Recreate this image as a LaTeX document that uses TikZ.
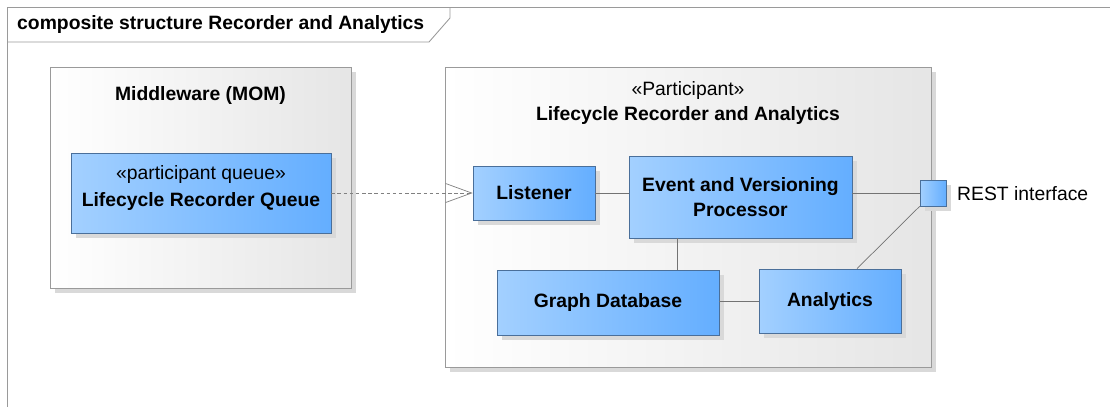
\documentclass[tikz,border=0pt]{standalone}
\usepackage{fontspec}
\setmainfont{Liberation Sans}
\usepackage{tikz}
\usetikzlibrary{shadows, arrows.meta}
\definecolor{azulclaro}{HTML}{A3D0FF}
\definecolor{azuloscuro}{HTML}{64AEFF}
\definecolor{bordeazul}{HTML}{4A6F9A}
\definecolor{gris}{HTML}{9A9A9A}
\tikzstyle{marco} = [draw=gris, line width=0.5pt]
\tikzstyle{sombra} = [drop shadow={shadow xshift=0.1cm,
                                   shadow yshift=-0.1cm,
                                   fill=black!15,
                                   opacity=1}]
\tikzstyle{contenedor} = [rectangle,
                          draw=gris,
                          left color=white,
                          right color=black!10,
                          sombra]
\tikzstyle{componente} = [rectangle,
                          draw=bordeazul,
                          left color=azulclaro,
                          right color=azuloscuro,
                          text centered,
                          align=center,
                          font=\bfseries\fontsize{11}{14}\selectfont,
                          sombra]
\tikzstyle{puerto} = [rectangle,
                      draw=bordeazul,
                      left color=azulclaro,
                      right color=azuloscuro,
                      minimum size=0.52cm,
                      inner sep=0pt,
                      sombra]
\tikzstyle{conector} = [draw=black!55, line width=0.4pt]
\tikzstyle{dependencia} = [draw=black!50, line width=0.4pt,
                           dash pattern=on 2pt off 1.5pt,
                           -{Straight Barb[length=0.52cm,width=0.38cm]}]
\tikzstyle{texto} = [font=\fontsize{11}{14}\selectfont]

\begin{document}
\begin{tikzpicture}[x=0.02cm, y=-0.02cm]
        \useasboundingbox (0,0) rectangle (1110,407);

        % marco del diagrama
        \draw [marco] (1110,7) -- (7,7) -- (7,407);
        \draw [marco] (7,42) -- (429,42) -- (450,18) -- (450,7);
        \node (Titulo) [anchor=west, font=\bfseries\fontsize{11}{14}\selectfont] at (11,24)
            {composite structure Recorder and Analytics};

        % contenedores
        \node (Middleware) [contenedor, minimum width=6.02cm, minimum height=4.42cm] at (200.5,177.5) {};
        \node (MiddlewareTitulo) [texto, font=\bfseries\fontsize{11}{14}\selectfont] at (200.5,95) {Middleware (MOM)};
        \node (Participante) [contenedor, minimum width=9.72cm, minimum height=6cm] at (688,217) {};
        \node (ParticipanteTitulo) [texto, align=center] at (688,103)
            {«Participant»\\[0pt] \textbf{Lifecycle Recorder and Analytics}};

        % partes
        \node (Cola) [componente, minimum width=5.2cm, minimum height=1.6cm] at (201,193) {};
        \node (ColaTexto) [texto, align=center] at (201,188)
            {«participant queue»\\[1pt] \textbf{Lifecycle Recorder Queue}};
        \node (Listener) [componente, minimum width=2.44cm, minimum height=1.08cm] at (534,193) {Listener};
        \node (Procesador) [componente, minimum width=4.46cm, minimum height=1.64cm] at (740.5,197)
            {Event and Versioning\\ Processor};
        \node (Grafo) [componente, minimum width=4.44cm, minimum height=1.3cm] at (608,302.5) {Graph Database};
        \node (Analytics) [componente, minimum width=2.84cm, minimum height=1.28cm] at (830,301) {Analytics};
        \node (Puerto) [puerto] at (933,193) {};
        \node (PuertoTexto) [texto, anchor=west] at (951,194) {REST interface};

        % conectores
        \draw [dependencia] (Cola.east) -- (Listener.west);
        \draw [conector] (Listener.east) -- (Listener.east -| Procesador.west);
        \draw [conector] (Puerto.west) -- (Puerto.west -| Procesador.east);
        \draw [conector] ([xshift=-1.27cm]Procesador.south) -- ([xshift=-1.27cm]Procesador.south |- Grafo.north);
        \draw [conector] (Analytics.west) -- (Analytics.west -| Grafo.east);
        \draw [conector] ([xshift=0.54cm]Analytics.north) -- (Puerto.south west);
    \end{tikzpicture}
\end{document}
